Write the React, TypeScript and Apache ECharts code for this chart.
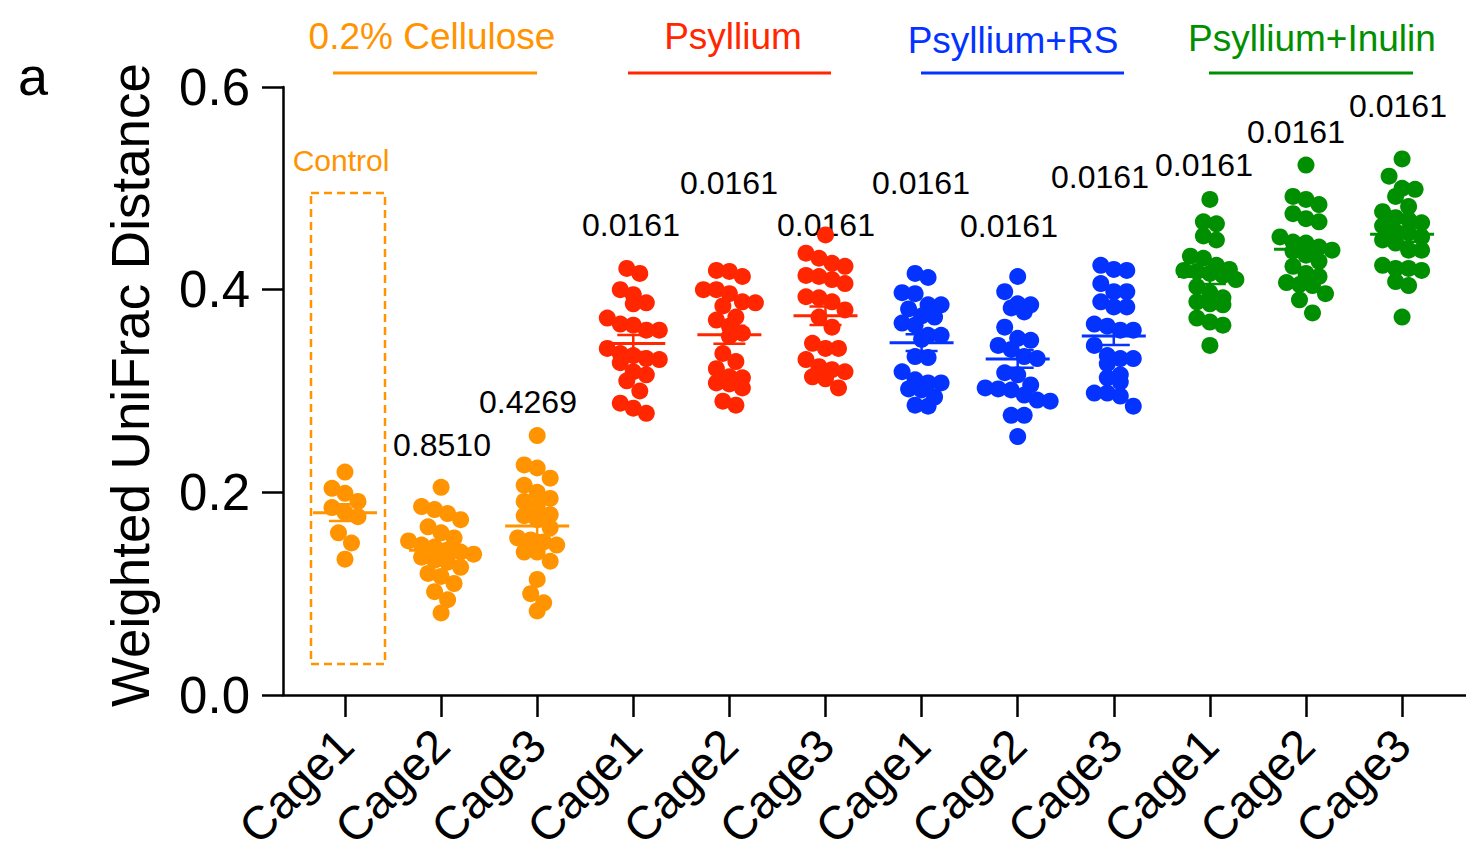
import React, { useEffect, useRef } from "react";
import * as echarts from "echarts";

// ---- data ----
const cageLabels = [
  "Cage1", "Cage2", "Cage3",
  "Cage1", "Cage2", "Cage3",
  "Cage1", "Cage2", "Cage3",
  "Cage1", "Cage2", "Cage3",
];
const dietNames = ["0.2% Cellulose", "Psyllium", "Psyllium+RS", "Psyllium+Inulin"];
const dietColors = ["#FF9300", "#FF2600", "#0433FF", "#008F00"];
const pValueLabels = ["", "0.8510", "0.4269", "0.0161", "0.0161", "0.0161", "0.0161", "0.0161", "0.0161", "0.0161", "0.0161", "0.0161"];
const yTicks = [0, 0.2, 0.4, 0.6];

const celluloseCage1 = [0.220, 0.204, 0.199, 0.191, 0.185, 0.180, 0.176, 0.160, 0.150, 0.134];
const celluloseCage2 = [0.205, 0.186, 0.183, 0.179, 0.173, 0.166, 0.160, 0.155, 0.152, 0.148, 0.146, 0.143, 0.141, 0.139, 0.136, 0.133, 0.131, 0.126, 0.120, 0.117, 0.110, 0.102, 0.094, 0.081];
const celluloseCage3 = [0.256, 0.227, 0.224, 0.214, 0.207, 0.200, 0.194, 0.191, 0.186, 0.178, 0.177, 0.173, 0.165, 0.155, 0.153, 0.151, 0.148, 0.141, 0.141, 0.132, 0.114, 0.100, 0.091, 0.083];
const psylliumCage1 = [0.421, 0.416, 0.400, 0.395, 0.387, 0.386, 0.372, 0.366, 0.365, 0.360, 0.360, 0.342, 0.337, 0.335, 0.332, 0.331, 0.328, 0.319, 0.316, 0.310, 0.300, 0.288, 0.283, 0.278];
const psylliumCage2 = [0.419, 0.418, 0.413, 0.400, 0.400, 0.396, 0.388, 0.387, 0.384, 0.373, 0.370, 0.364, 0.357, 0.354, 0.337, 0.329, 0.322, 0.314, 0.313, 0.308, 0.307, 0.303, 0.290, 0.286];
const psylliumCage3 = [0.454, 0.436, 0.431, 0.426, 0.423, 0.414, 0.413, 0.410, 0.406, 0.393, 0.392, 0.388, 0.380, 0.373, 0.363, 0.347, 0.342, 0.342, 0.331, 0.324, 0.321, 0.319, 0.314, 0.312, 0.303];
const rsCage1 = [0.416, 0.412, 0.397, 0.396, 0.385, 0.385, 0.381, 0.374, 0.373, 0.367, 0.365, 0.355, 0.355, 0.351, 0.334, 0.333, 0.319, 0.311, 0.308, 0.308, 0.302, 0.301, 0.294, 0.286, 0.285];
const rsCage2 = [0.413, 0.398, 0.386, 0.385, 0.382, 0.378, 0.363, 0.352, 0.350, 0.345, 0.341, 0.334, 0.332, 0.318, 0.316, 0.306, 0.303, 0.302, 0.301, 0.296, 0.291, 0.290, 0.276, 0.276, 0.255];
const rsCage3 = [0.424, 0.420, 0.419, 0.406, 0.398, 0.398, 0.388, 0.383, 0.383, 0.366, 0.364, 0.360, 0.360, 0.345, 0.335, 0.332, 0.332, 0.327, 0.316, 0.313, 0.309, 0.298, 0.298, 0.295, 0.285];
const inulinCage1 = [0.489, 0.467, 0.465, 0.453, 0.449, 0.433, 0.431, 0.424, 0.420, 0.419, 0.418, 0.416, 0.414, 0.410, 0.403, 0.397, 0.392, 0.388, 0.386, 0.385, 0.372, 0.368, 0.365, 0.345];
const inulinCage2 = [0.523, 0.492, 0.489, 0.484, 0.475, 0.470, 0.467, 0.452, 0.447, 0.446, 0.442, 0.439, 0.438, 0.434, 0.428, 0.423, 0.416, 0.413, 0.407, 0.405, 0.404, 0.396, 0.390, 0.377];
const inulinCage3 = [0.529, 0.512, 0.500, 0.499, 0.492, 0.482, 0.477, 0.471, 0.469, 0.466, 0.463, 0.457, 0.456, 0.452, 0.449, 0.446, 0.439, 0.439, 0.424, 0.421, 0.421, 0.419, 0.408, 0.404, 0.373];

const cageValues = [
  celluloseCage1, celluloseCage2, celluloseCage3,
  psylliumCage1, psylliumCage2, psylliumCage3,
  rsCage1, rsCage2, rsCage3,
  inulinCage1, inulinCage2, inulinCage3,
];

// ---- layout ----
const W = 1466;
const H = 865;
const GRID = { left: 283, top: 87, right: 0, bottom: 170 };
const X_MIN = -0.645;
const X_MAX = 11.665;
const Y_MAX = 0.6;
const FONT = '"Liberation Sans", Arial, Helvetica, sans-serif';
const DOT = 17;
const ROW_PX = 14;
const STEP_PX = 13;

const pxPerX = (W - GRID.left - GRID.right) / (X_MAX - X_MIN);
const pxPerY = (H - GRID.top - GRID.bottom) / Y_MAX;

// Prism-style column scatter: rows of nearby values spread symmetrically.
function swarm(values: number[], center: number): number[][] {
  const sorted = [...values].sort((a, b) => b - a);
  const rows: number[][] = [];
  for (const v of sorted) {
    const row = rows[rows.length - 1];
    if (row && (row[0] - v) * pxPerY < ROW_PX) row.push(v);
    else rows.push([v]);
  }
  const pts: number[][] = [];
  for (const row of rows) {
    row.forEach((v, k) => {
      const off = (k - (row.length - 1) / 2) * STEP_PX;
      pts.push([center + off / pxPerX, v]);
    });
  }
  return pts;
}

function meanSem(values: number[]) {
  const n = values.length;
  const m = values.reduce((a, b) => a + b, 0) / n;
  const sd = Math.sqrt(values.reduce((a, b) => a + (b - m) * (b - m), 0) / (n - 1));
  return [m, sd / Math.sqrt(n)];
}

const cageIdx = cageLabels.map((_, i) => i);

// annotation anchors (pixels)
const headerX = [432, 733, 1013, 1312];
const headerY = [36, 36, 40, 38];
const headerLine = [[333, 537], [628, 831], [921, 1124], [1209, 1413]];
const pLabelX = [0, 442, 528, 631, 729, 826, 921, 1009, 1100, 1204, 1296, 1398];
const pLabelY = [0, 445, 402, 225, 183, 225, 183, 226, 177, 165, 132, 106];

function txt(x: number, y: number, text: string, size: number, color: string, extra: any = {}) {
  return {
    type: "text",
    x,
    y,
    ...extra,
    style: {
      text,
      fill: color,
      font: `${size}px ${FONT}`,
      align: "center",
      verticalAlign: "middle",
      textAlign: "center",
      textVerticalAlign: "middle",
    },
  };
}

export default function App() {
  const ref = useRef<HTMLDivElement>(null);

  useEffect(() => {
    if (!ref.current) return;
    const chart = echarts.init(ref.current, null, { renderer: "svg" });

    const scatterSeries = cageValues.map((vals, i) => ({
      type: "scatter",
      data: swarm(vals, i),
      symbol: "circle",
      symbolSize: DOT,
      itemStyle: { color: dietColors[Math.floor(i / 3)], opacity: 1 },
      z: 2,
    }));

    const summaryData = cageValues.map((vals, i) => {
      const [m, s] = meanSem(vals);
      return [i, m, s, Math.floor(i / 3)];
    });

    const graphics: any[] = [];
    graphics.push(txt(33, 76, "a", 54, "#000"));
    graphics.push(
      txt(130, 385, "Weighted UniFrac Distance", 53, "#000", { rotation: Math.PI / 2 })
    );
    dietNames.forEach((name, g) => {
      graphics.push(txt(headerX[g], headerY[g], name, 37, dietColors[g]));
      graphics.push({
        type: "line",
        shape: { x1: headerLine[g][0], y1: 73, x2: headerLine[g][1], y2: 73 },
        style: { stroke: dietColors[g], lineWidth: 3 },
      });
    });
    graphics.push(txt(341, 160, "Control", 30, dietColors[0]));
    graphics.push({
      type: "rect",
      shape: { x: 311, y: 193, width: 74, height: 471 },
      style: { fill: "none", stroke: dietColors[0], lineWidth: 2.5, lineDash: [8, 5] },
    });
    pValueLabels.forEach((p, i) => {
      if (p) graphics.push(txt(pLabelX[i], pLabelY[i], p, 32, "#000"));
    });

    chart.setOption({
      animation: false,
      backgroundColor: "#fff",
      grid: { ...GRID, containLabel: false },
      xAxis: {
        type: "value",
        min: X_MIN,
        max: X_MAX,
        splitLine: { show: false },
        axisLine: { show: true, onZero: false, lineStyle: { color: "#000", width: 2.5 } },
        axisTick: {
          show: true,
          customValues: cageIdx,
          length: 22,
          inside: false,
          lineStyle: { color: "#000", width: 2.5 },
        },
        axisLabel: {
          show: true,
          customValues: cageIdx,
          formatter: (v: number) => cageLabels[Math.round(v)] ?? "",
          rotate: 45,
          margin: 42,
          fontSize: 47,
          fontFamily: FONT,
          color: "#000",
        },
      },
      yAxis: {
        type: "value",
        min: 0,
        max: Y_MAX,
        interval: 0.2,
        splitLine: { show: false },
        axisLine: { show: true, onZero: false, lineStyle: { color: "#000", width: 2.5 } },
        axisTick: { show: true, length: 21, inside: false, lineStyle: { color: "#000", width: 2.5 } },
        axisLabel: {
          formatter: (v: number) => (yTicks.some((t) => Math.abs(t - v) < 1e-9) ? v.toFixed(1) : ""),
          fontSize: 51,
          fontFamily: FONT,
          color: "#000",
          margin: 33,
        },
      },
      series: [
        ...scatterSeries,
        {
          type: "custom",
          data: summaryData,
          encode: { x: 0, y: 1 },
          z: 3,
          clip: false,
          renderItem: (_params: any, api: any) => {
            const i = api.value(0);
            const m = api.value(1);
            const s = api.value(2);
            const c = dietColors[api.value(3)];
            const [cx, cy] = api.coord([i, m]);
            const top = api.coord([i, m + s])[1];
            const bot = api.coord([i, m - s])[1];
            return {
              type: "group",
              children: [
                { type: "line", shape: { x1: cx - 32, y1: cy, x2: cx + 32, y2: cy }, style: { stroke: c, lineWidth: 3 } },
                { type: "line", shape: { x1: cx, y1: top, x2: cx, y2: bot }, style: { stroke: c, lineWidth: 2.5 } },
                { type: "line", shape: { x1: cx - 16, y1: top, x2: cx + 16, y2: top }, style: { stroke: c, lineWidth: 2.5 } },
                { type: "line", shape: { x1: cx - 16, y1: bot, x2: cx + 16, y2: bot }, style: { stroke: c, lineWidth: 2.5 } },
              ],
            };
          },
        },
      ],
      graphic: graphics,
    });

    return () => chart.dispose();
  }, []);

  return (
    <div
      ref={ref}
      style={{ position: "fixed", left: 0, top: 0, width: W, height: H, background: "#fff" }}
    />
  );
}
